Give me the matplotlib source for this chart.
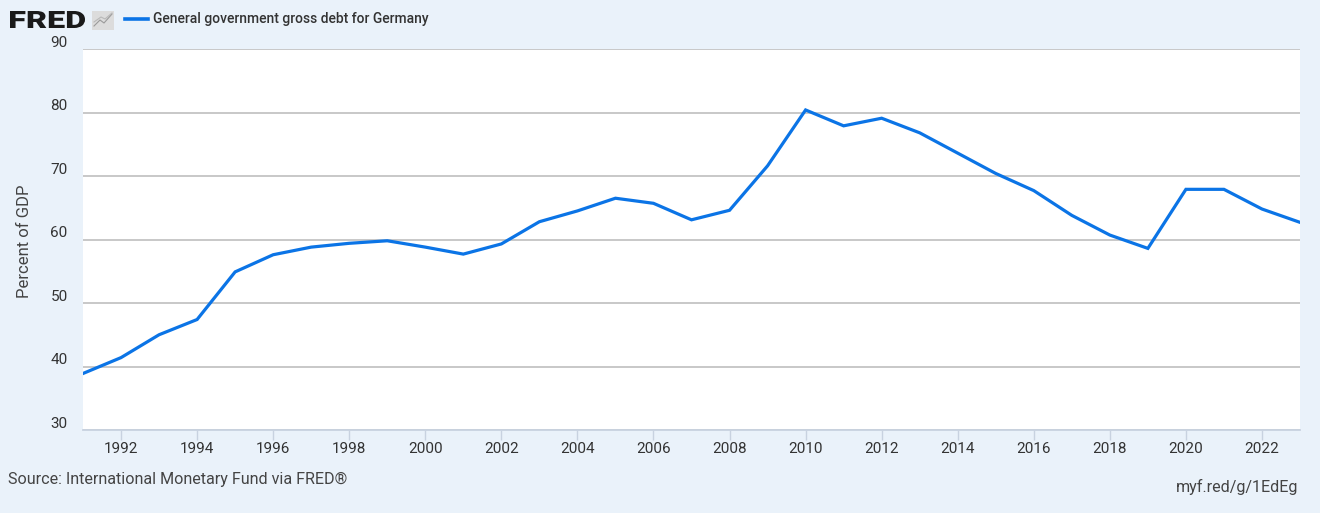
import matplotlib
matplotlib.use("Agg")
import matplotlib.pyplot as plt
from matplotlib.patches import Rectangle, PathPatch
from matplotlib.textpath import TextPath
from matplotlib.font_manager import FontProperties
from matplotlib.transforms import ScaledTranslation, Affine2D, IdentityTransform

years = list(range(1991, 2024))
debt = [38.9, 41.4, 45.0, 47.4, 54.9, 57.6, 58.8, 59.4, 59.8, 58.8,
        57.7, 59.3, 62.8, 64.5, 66.5, 65.7, 63.1, 64.6, 71.6, 80.4,
        77.9, 79.1, 76.8, 73.6, 70.4, 67.7, 63.8, 60.7, 58.6, 67.9,
        67.9, 64.8, 62.7]
xticks = list(range(1992, 2023, 2))
yticks = [30, 40, 50, 60, 70, 80, 90]
series_name = "General government gross debt for Germany"
y_label = "Percent of GDP"
source = "Source: International Monetary Fund via FRED\u00ae"
link = "myf.red/g/1EdEg"

plt.rcParams['font.family'] = ['Roboto', 'DejaVu Sans']
BG = '#eaf2fa'
LINE = '#0b74e6'
TXT = '#333333'

W, H = 1320, 513
fig = plt.figure(figsize=(W / 100, H / 100), dpi=100, facecolor=BG)
ax = fig.add_axes([83 / W, 1 - 430 / H, (1300 - 83) / W, (430 - 49) / H])
ax.set_facecolor('white')

ax.plot(years, debt, color=LINE, lw=2.3, solid_joinstyle='miter', zorder=3)

ax.set_xlim(1991, 2023)
ax.set_ylim(30, 90)
ax.set_yticks(yticks)
ax.set_xticks(xticks)
ax.set_xticklabels([str(x) for x in xticks])
ax.grid(axis='y', color='#c4c4c4', lw=1.3)
ax.set_axisbelow(True)
for s in ['top', 'left', 'right']:
    ax.spines[s].set_visible(False)
ax.spines['bottom'].set_color('#c8d2e0')
ax.spines['bottom'].set_linewidth(1.3)
ax.tick_params(axis='x', colors='#c8d2e0', length=7.5, width=1, pad=1,
               labelcolor=TXT, labelsize=11)
ax.tick_params(axis='y', length=0, labelcolor=TXT, labelsize=11, pad=11)
for lab in ax.get_yticklabels():
    lab.set_verticalalignment('center')
    lab.set_transform(lab.get_transform() + ScaledTranslation(0, 4.5 / 72, fig.dpi_scale_trans))

fig.text(25 / W, 1 - 241 / H, y_label, rotation=90, ha='center', va='center',
         fontsize=12, color='#444444')

# header: logo (scaled text path) and legend
tp = TextPath((0, 0), "FRED", size=20, prop=FontProperties(family='Roboto', weight='black'))
bb = tp.get_extents()
sx = (85 - 10) / bb.width
sy = (28 - 11) / bb.height
tr = Affine2D().translate(-bb.x0, -bb.y0).scale(sx, sy).translate(10, H - 28)
fig.add_artist(PathPatch(tr.transform_path(tp), facecolor='#1a1a1a', edgecolor='none',
                         transform=IdentityTransform()))
fig.patches.append(Rectangle((92 / W, 1 - 30 / H), 22 / W, 19 / H, transform=fig.transFigure,
                             facecolor='#dcdcdc', edgecolor='none'))
fig.add_artist(plt.Line2D([94 / W, 100 / W, 104 / W, 112 / W],
                          [1 - 26 / H, 1 - 20 / H, 1 - 23 / H, 1 - 14 / H],
                          color='#9a9a9a', lw=0.8, transform=fig.transFigure))
fig.add_artist(plt.Line2D([94 / W, 101 / W, 105 / W, 112 / W],
                          [1 - 22 / H, 1 - 17 / H, 1 - 19 / H, 1 - 13 / H],
                          color='#b8b8b8', lw=0.8, transform=fig.transFigure))
fig.add_artist(plt.Line2D([125 / W, 148 / W], [1 - 19 / H, 1 - 19 / H], color=LINE, lw=2.6,
                          transform=fig.transFigure))
fig.text(153 / W, 1 - 19 / H, series_name, fontsize=10, fontweight='medium', color=TXT,
         ha='left', va='center')

fig.text(8 / W, 1 - 479 / H, source, fontsize=11.6, color='#444444', ha='left', va='center')
fig.text(1298 / W, 1 - 487 / H, link, fontsize=11.6, color='#444444', ha='right', va='center')

fig.savefig('out.png', dpi=100, facecolor=BG)
